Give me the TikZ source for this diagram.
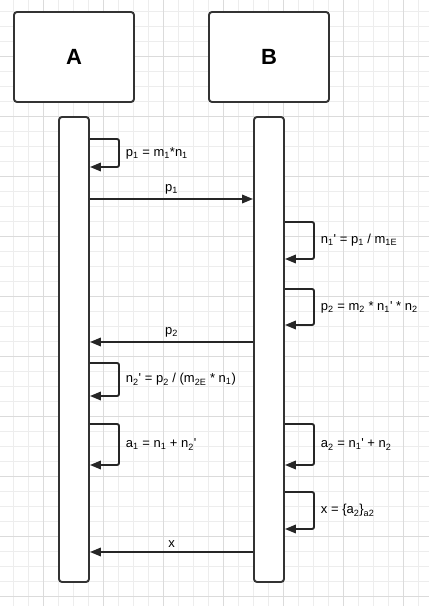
\documentclass[tikz,border=0pt]{standalone}
\usepackage{fontspec}
\setmainfont{Liberation Sans}
\usetikzlibrary{arrows.meta,positioning}

\newcommand{\sub}[1]{\textsubscript{#1}}
\newcommand{\tick}{\textquotesingle}

\begin{document}
\begin{tikzpicture}[
    x=1pt, y=-1pt,
    gridminor/.style={draw=black!7, line width=0.8pt},
    gridmajor/.style={draw=black!14, line width=0.8pt},
    actor/.style={draw=black!80, line width=1.9pt, rounded corners=3pt, fill=white, minimum width=120pt, minimum height=90pt, font=\fontsize{22}{26}\selectfont\bfseries},
    life/.style={draw=black!80, line width=1.9pt, rounded corners=3pt, fill=white, minimum width=30pt, minimum height=465pt},
    msg/.style={-{Triangle[length=11pt, width=8.5pt]}, line width=1.9pt, draw=black!85},
    self/.style={msg, rounded corners=2pt},
    lbl/.style={font=\fontsize{13}{15}\selectfont, inner sep=1pt}
]
\useasboundingbox (0,0) rectangle (429,606);
\fill[white] (0,0) rectangle (429,606);
% background grid
\foreach \k in {0,...,27} \draw[gridminor] (13.33+15*\k,0) -- (13.33+15*\k,606);
\foreach \k in {0,...,39} \draw[gridminor] (0,11.67+15*\k) -- (429,11.67+15*\k);
\foreach \k in {0,...,6} \draw[gridmajor] (43.33+60*\k,0) -- (43.33+60*\k,606);
\foreach \k in {0,...,9} \draw[gridmajor] (0,56.67+60*\k) -- (429,56.67+60*\k);

\node[actor] (A) at (74,57) {A};
\node[actor] (B) at (269,57) {B};
\node[life] (barA) at (74,349.5) {};
\node[life] (barB) at (269,349.5) {};

\draw[self] (barA.east |- 0,139) -- (119,139) |- node[lbl, pos=0.25, right=5pt] {p\sub{1} = m\sub{1}*n\sub{1}} (barA.east |- 0,167);
\draw[msg] (barA.east |- 0,199) -- node[lbl, above=3pt] {p\sub{1}} (barB.west |- 0,199);
\draw[self] (barB.east |- 0,222) -- (314,222) |- node[lbl, pos=0.25, right=5pt] {n\sub{1}\tick{} = p\sub{1} / m\sub{1E}} (barB.east |- 0,259);
\draw[self] (barB.east |- 0,289) -- (314,289) |- node[lbl, pos=0.25, right=5pt] {p\sub{2} = m\sub{2} * n\sub{1}\tick{} * n\sub{2}} (barB.east |- 0,325);
\draw[msg] (barB.west |- 0,342) -- node[lbl, above=3pt] {p\sub{2}} (barA.east |- 0,342);
\draw[self] (barA.east |- 0,363) -- (119,363) |- node[lbl, pos=0.25, right=5pt] {n\sub{2}\tick{} = p\sub{2} / (m\sub{2E} * n\sub{1})} (barA.east |- 0,396);
\draw[self] (barA.east |- 0,424) -- (119,424) |- node[lbl, pos=0.25, right=5pt] {a\sub{1} = n\sub{1} + n\sub{2}\tick} (barA.east |- 0,465);
\draw[self] (barB.east |- 0,424) -- (314,424) |- node[lbl, pos=0.25, right=5pt] {a\sub{2} = n\sub{1}\tick{} + n\sub{2}} (barB.east |- 0,465);
\draw[self] (barB.east |- 0,492) -- (314,492) |- node[lbl, pos=0.25, right=5pt] {x = \{a\sub{2}\}\sub{a2}} (barB.east |- 0,529);
\draw[msg] (barB.west |- 0,552) -- node[lbl, above=3pt] {x} (barA.east |- 0,552);
\end{tikzpicture}
\end{document}
